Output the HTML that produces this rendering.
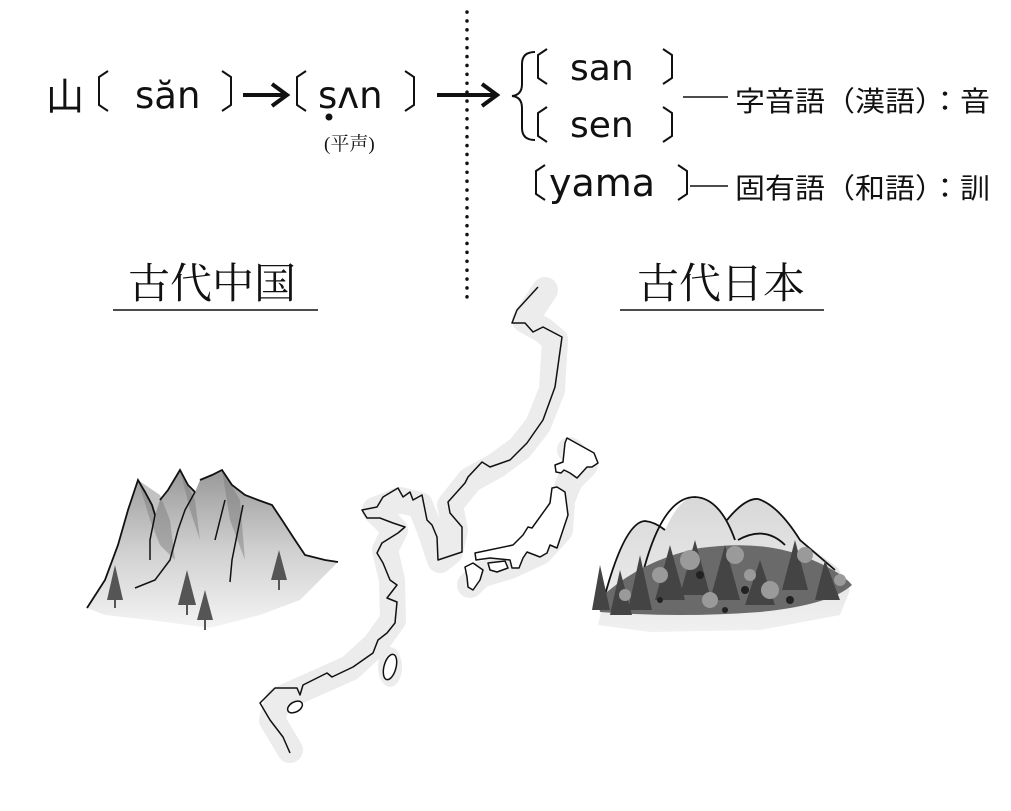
<!DOCTYPE html>
<html><head><meta charset="utf-8"><style>
html,body{margin:0;padding:0;background:#fff;}
svg{display:block;}
.s{font-family:"DejaVu Sans","Liberation Sans","Noto Sans CJK JP",sans-serif;fill:#111;}
.j{font-family:"Liberation Sans","Noto Sans CJK JP",sans-serif;fill:#111;}
.r{font-family:"Liberation Serif","Noto Serif CJK SC",serif;fill:#111;}
.b{fill:none;stroke:#111;stroke-width:2;stroke-linejoin:miter;}
</style></head><body>
<svg width="1011" height="811" viewBox="0 0 1011 811" xmlns="http://www.w3.org/2000/svg">
<defs>
<linearGradient id="gl" x1="0" y1="0" x2="0" y2="1">
<stop offset="0" stop-color="#999"/><stop offset="0.5" stop-color="#cfcfcf"/><stop offset="1" stop-color="#f4f4f4"/></linearGradient>
<linearGradient id="gr" x1="0" y1="0" x2="0" y2="1">
<stop offset="0" stop-color="#d8d8d8"/><stop offset="1" stop-color="#f0f0f0"/></linearGradient>
</defs>

<text x="46" y="110" class="j" font-size="38">山</text>
<path class="b" d="M108 71 L99 77 V105 L108 111"/>
<text x="135" y="108" class="s" font-size="37">săn</text>
<path class="b" d="M222 71 L231 77 V105 L222 111"/>
<path d="M243 95 H285 M272 84 L287 95 L272 106" stroke="#111" stroke-width="4" fill="none"/>
<path class="b" d="M306 71 L297 77 V105 L306 111"/>
<text x="318" y="108" class="s" font-size="37">sʌn</text>
<path class="b" d="M405 71 L414 77 V105 L405 111"/>
<circle cx="329" cy="117" r="3.5" fill="#111"/>
<text x="324" y="150" class="r" font-size="19">(平声)</text>
<path d="M437 95 H495 M482 84 L497 95 L482 106" stroke="#111" stroke-width="4" fill="none"/>

<line x1="467" y1="12" x2="467" y2="305" stroke="#111" stroke-width="3.5" stroke-dasharray="0.1 8.8" stroke-linecap="round"/>

<path d="M535 52 Q522 52 522 64 V84 Q522 95 512 96 Q522 97 522 108 V128 Q522 140 535 140" stroke="#111" stroke-width="2" fill="none"/>
<path class="b" d="M547 49 L538 55 V78 L547 84"/>
<text x="570" y="80" class="s" font-size="36">san</text>
<path class="b" d="M663 49 L672 55 V78 L663 84"/>
<path class="b" d="M547 107 L538 113 V136 L547 142"/>
<text x="570" y="137" class="s" font-size="36">sen</text>
<path class="b" d="M663 107 L672 113 V136 L663 142"/>
<line x1="683" y1="97" x2="728" y2="97" stroke="#111" stroke-width="1.5"/>
<text x="735" y="111" class="j" font-size="28" textLength="255" lengthAdjust="spacingAndGlyphs">字音語（漢語）：音</text>
<path class="b" d="M545 165 L536 171 V194 L545 200"/>
<text x="549" y="196" class="s" font-size="38">yama</text>
<path class="b" d="M678 165 L687 171 V194 L678 200"/>
<line x1="690" y1="186" x2="728" y2="186" stroke="#111" stroke-width="1.5"/>
<text x="735" y="198" class="j" font-size="28" textLength="255" lengthAdjust="spacingAndGlyphs">固有語（和語）：訓</text>

<text x="128" y="298" class="r" font-size="42">古代中国</text>
<line x1="113" y1="310" x2="318" y2="310" stroke="#111" stroke-width="1.5"/>
<text x="637" y="298" class="r" font-size="42">古代日本</text>
<line x1="620" y1="310" x2="824" y2="310" stroke="#111" stroke-width="1.5"/>

<g fill="none" stroke="#ececec" stroke-width="26" stroke-linejoin="round" stroke-linecap="round">
<path d="M545 290 L525 320 L543 330 L555 340 L552 390 L538 425 L520 448 L497 465 L470 480 L450 505 L455 530 L450 552 L440 560 L430 530 L420 505 L400 500 L375 510 L395 530 L385 550 L392 580 L393 620 L375 645 L350 668 L305 688 L278 700 L272 720 L290 750"/>
<path d="M570 450 L585 465 L570 480 L562 500 L560 530 L540 552 L510 566 L480 575 L470 585"/>
</g>
<ellipse cx="390" cy="667" rx="12" ry="20" fill="#ececec"/>

<path d="M538 287 L517 310 L512 323 L525 323 L533 332 L543 327 L562 337 L555 387 L543 420 L527 443 L510 460 L490 467 L482 462 L468 477 L465 483 L448 502 L450 513 L462 527 L462 552 L438 560 L437 537 L432 525 L427 520 L425 510 L422 495 L413 500 L410 492 L403 497 L398 488 L383 497 L377 507 L362 510 L367 518 L380 518 L393 523 L405 527 L398 533 L382 543 L377 553 L383 563 L390 580 L397 585 L387 598 L397 602 L395 623 L387 633 L378 640 L373 653 L353 667 L332 677 L327 673 L303 685 L300 695 L297 688 L275 688 L260 703 L270 720 L283 737 L290 753" fill="none" stroke="#111" stroke-width="1.5" stroke-linejoin="round"/>
<ellipse cx="390" cy="667" rx="6" ry="13" transform="rotate(15 390 667)" fill="#fff" stroke="#111" stroke-width="1.5"/>
<ellipse cx="295" cy="707" rx="8" ry="5" transform="rotate(-30 295 707)" fill="#fff" stroke="#111" stroke-width="1.5"/>

<g fill="#fff" stroke="#111" stroke-width="1.5" stroke-linejoin="round">
<path d="M567 438 L594 453 L598 463 L592 467 L587 467 L577 478 L570 473 L564 470 L561 473 L556 472 L555 465 L563 462 L565 443 Z"/>
<path d="M557 487 L565 492 L568 515 L557 548 L550 545 L547 553 L540 557 L527 552 L523 558 L519 568 L512 568 L510 560 L490 558 L476 560 L475 553 L513 545 L523 535 L528 527 L532 528 L550 503 L552 488 Z"/>
<path d="M465 567 L473 563 L483 570 L480 580 L473 590 L468 587 L467 577 Z"/>
<path d="M488 563 L505 561 L508 568 L497 572 L490 570 Z"/>
</g>

<path d="M87 608 L105 580 L118 545 L128 510 L138 480 L145 492 L152 505 L155 515 L160 500 L168 490 L180 470 L188 485 L195 492 L200 480 L212 475 L222 470 L232 485 L245 495 L258 500 L272 505 L282 520 L295 540 L305 555 L325 560 L338 562 L320 580 L300 600 L260 615 L210 628 L150 620 L105 615 Z" fill="url(#gl)"/>
<path d="M138 480 L150 520 L160 545 L175 560 L170 520 L160 495 Z M180 470 L190 510 L200 540 L195 500 Z M222 470 L230 520 L245 560 L240 500 Z" fill="#777" opacity="0.45"/>
<path d="M87 608 L105 580 L118 545 L128 510 L138 480 L145 492 L152 505 L155 515 M160 500 L168 490 L180 470 L188 485 L195 492 M200 480 L212 475 L222 470 L232 485 L245 495 L258 500 L272 505 L282 520 L295 540 L305 555 L325 560 L338 562" fill="none" stroke="#111" stroke-width="1.8"/>
<path d="M155 515 L150 540 L150 560 M195 492 L185 510 L178 530 L170 560 L155 580 L135 588 M225 500 L215 540 M243 505 L232 560 L230 582" fill="none" stroke="#111" stroke-width="1.5"/>
<g fill="#555">
<path d="M115 565 L107 600 L123 600 Z"/><rect x="114" y="600" width="2" height="8"/>
<path d="M187 570 L178 605 L196 605 Z"/><rect x="186" y="605" width="2" height="10"/>
<path d="M205 590 L197 620 L213 620 Z"/><rect x="204" y="620" width="2" height="10"/>
<path d="M279 550 L271 580 L287 580 Z"/><rect x="278" y="580" width="2" height="10"/>
</g>

<path d="M605 595 Q625 522 645 521 Q655 522 665 530 Q680 497 695 497 Q712 497 727 520 Q745 498 758 499 Q778 505 800 540 L838 568 L850 590 L840 615 L760 630 L650 632 L598 625 Z" fill="url(#gr)"/>
<path d="M605 595 Q625 522 645 521 Q655 522 665 530 M640 585 Q660 497 695 497 Q720 498 735 540 M727 520 Q745 498 758 499 Q778 505 800 540 L835 570 M738 540 Q765 525 785 545" fill="none" stroke="#111" stroke-width="1.8"/>
<g>
<path d="M598 600 Q640 560 700 548 Q760 540 800 555 Q840 570 852 585 Q830 605 760 612 Q680 618 600 612 Z" fill="#6a6a6a"/>
<g fill="#444">
<path d="M600 565 L592 610 L610 610 Z"/><path d="M620 570 L610 615 L632 615 Z"/><path d="M640 555 L628 610 L652 610 Z"/>
<path d="M695 540 L680 595 L710 595 Z"/><path d="M670 545 L655 600 L685 600 Z"/><path d="M725 545 L710 600 L740 600 Z"/>
<path d="M760 560 L745 605 L775 605 Z"/><path d="M795 540 L782 590 L808 590 Z"/><path d="M825 560 L815 600 L840 600 Z"/>
</g>
<g fill="#9a9a9a">
<circle cx="690" cy="560" r="10"/><circle cx="735" cy="555" r="9"/><circle cx="805" cy="555" r="8"/>
<circle cx="660" cy="575" r="8"/><circle cx="770" cy="590" r="9"/><circle cx="710" cy="600" r="8"/>
<circle cx="625" cy="595" r="6"/><circle cx="840" cy="580" r="6"/><circle cx="750" cy="575" r="6"/>
</g>
<g fill="#222">
<circle cx="700" cy="575" r="4"/><circle cx="745" cy="590" r="4"/><circle cx="660" cy="600" r="3"/><circle cx="790" cy="600" r="4"/><circle cx="725" cy="610" r="3"/>
</g>
</g>
</svg>
</body></html>
